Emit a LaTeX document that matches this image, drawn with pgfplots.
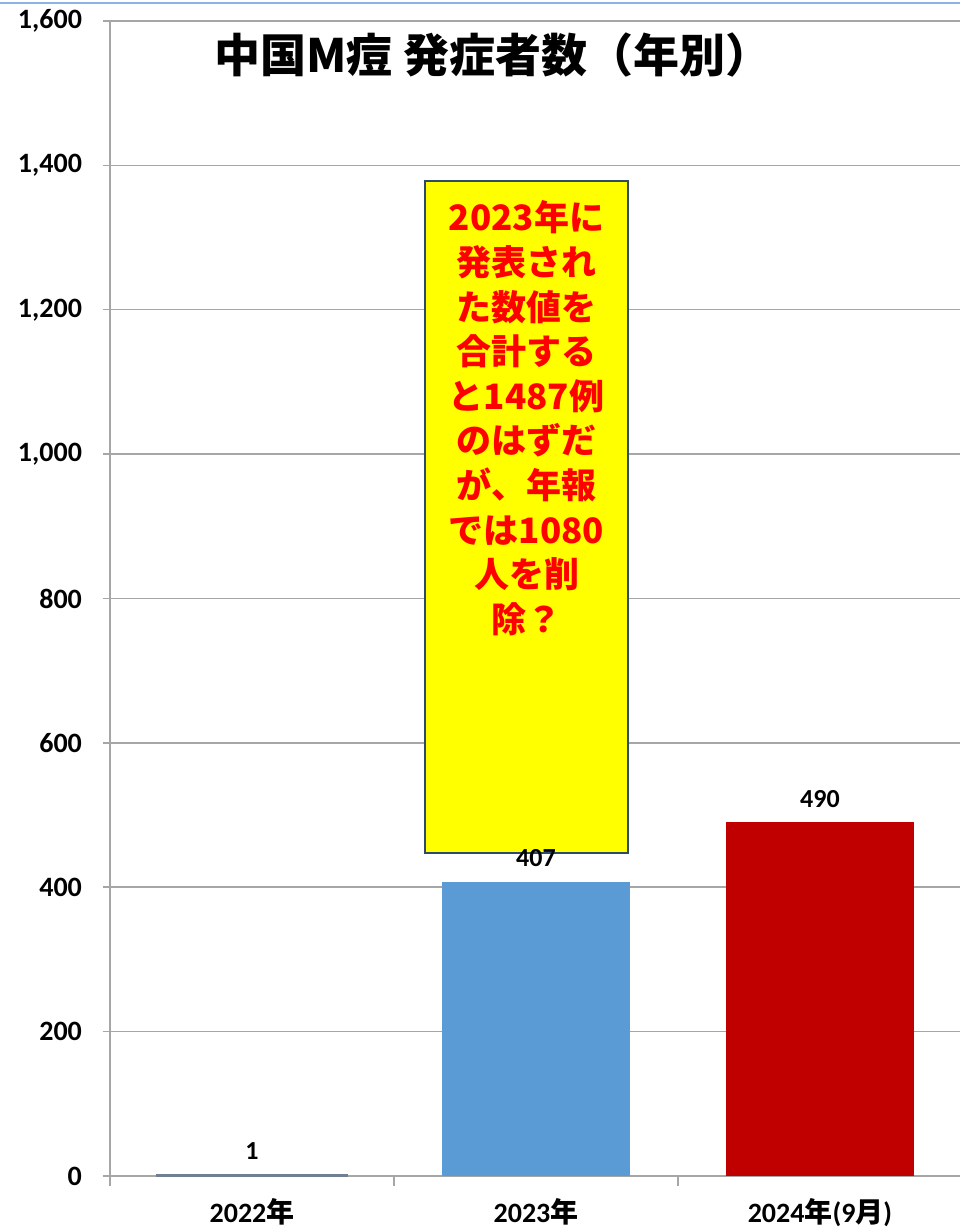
\documentclass[border=0pt]{standalone}
\usepackage{pgfplots}
\pgfplotsset{compat=1.18}
\usepackage{fontspec}
\setmainfont{Carlito}
\newfontfamily\cjk{Noto Sans CJK JP}
\definecolor{gridgray}{HTML}{A6A6A6}
\definecolor{barblue}{HTML}{5B9BD5}
\definecolor{barred}{HTML}{C00000}
\definecolor{bargray}{HTML}{718091}
\definecolor{boxedge}{HTML}{2F4A66}
\definecolor{topblue}{HTML}{8DB3E2}
\definecolor{pureyellow}{HTML}{FFFF00}
\begin{document}
\begin{tikzpicture}
\useasboundingbox (-55pt,-26.5pt) rectangle (425pt,588pt);
\draw[topblue, line width=0.75pt] (-55pt,586.5pt) -- (425pt,586.5pt);
\begin{axis}[
  at={(0,0)}, anchor=south west,
  scale only axis, width=425pt, height=577.5pt,
  xmin=-0.5, xmax=2.493, ymin=0, ymax=1600,
  axis x line*=bottom, axis y line*=left,
  axis line style={gridgray, line width=0.75pt, -},
  ytick={0,200,...,1600},
  ymajorgrids, grid style={gridgray, line width=0.75pt},
  xtick={0,1,2},
  xticklabels={2022{\cjk 年}, 2023{\cjk 年}, 2024{\cjk 年}(9{\cjk 月})},
  major x tick style={draw=none},
  minor xtick={-0.5,0.5,1.5},
  minor x tick style={gridgray, line width=0.75pt},
  minor tick length=5pt,
  major tick length=3.5pt,
  tick align=outside,
  y tick style={gridgray, line width=0.75pt},
  /pgf/number format/.cd, 1000 sep={,}, assume math mode=true, /pgfplots/.cd,
  yticklabel style={font=\fontsize{14}{16}\selectfont\bfseries, xshift=-7pt},
  xticklabel style={font=\fontsize{14}{16}\selectfont\bfseries, yshift=-4pt},
  nodes near coords style={font=\fontsize{13}{15}\selectfont\bfseries, anchor=south, yshift=4pt, text=black},
  clip=false,
]
\addplot[ybar, bar width=0.665, bar shift=0pt, fill=bargray, draw=bargray, line width=1.2pt, nodes near coords] coordinates {(0,1)};
\addplot[ybar, bar width=0.665, bar shift=0pt, fill=barblue, draw=none, nodes near coords] coordinates {(1,407)};
\addplot[ybar, bar width=0.665, bar shift=0pt, fill=barred, draw=none, nodes near coords] coordinates {(2,490)};
\draw[boxedge, line width=1pt, fill=pureyellow] (axis cs:0.609,447) rectangle (axis cs:1.324,1378);
\node[anchor=north, text=red, inner sep=0pt, yshift=-9.6pt, align=center,
  font=\cjk\bfseries\fontsize{17.5}{22.3}\selectfont] at (axis cs:0.967,1378)
  {2023年に\\発表され\\た数値を\\合計する\\と1487例\\のはずだ\\が、年報\\では1080\\人を削\\除？};
\node[font=\cjk\bfseries\fontsize{23}{27}\selectfont] at (rel axis cs:0.4506,0.9706) {中国M痘 発症者数（年別）};
\end{axis}
\end{tikzpicture}
\end{document}
